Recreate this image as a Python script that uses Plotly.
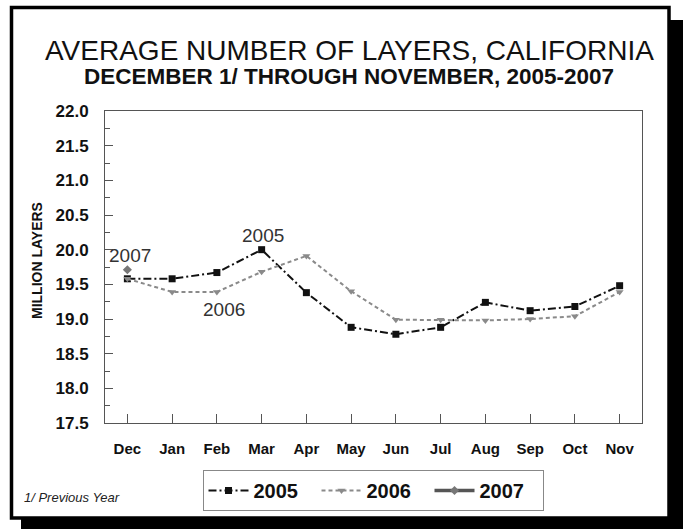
import plotly.graph_objects as go

months = ["Dec", "Jan", "Feb", "Mar", "Apr", "May", "Jun", "Jul", "Aug", "Sep", "Oct", "Nov"]
y2005 = [19.58, 19.58, 19.67, 20.00, 19.38, 18.88, 18.78, 18.88, 19.24, 19.12, 19.18, 19.48]
y2006 = [19.58, 19.39, 19.39, 19.68, 19.91, 19.40, 18.99, 18.99, 18.98, 19.00, 19.04, 19.39]
months2007 = ["Dec"]
y2007 = [19.71]
ytick_vals = [17.5, 18.0, 18.5, 19.0, 19.5, 20.0, 20.5, 21.0, 21.5, 22.0]

W, H = 683, 529
L, R, T, B = 105, 642, 111, 423


def px(x):
    return (x - L) / (R - L)


def py(y):
    return (B - y) / (B - T)


FONT = "Liberation Sans, Arial, Helvetica, sans-serif"

fig = go.Figure()
fig.add_trace(go.Scatter(
    x=months, y=y2005, name="2005", mode="lines+markers",
    line=dict(color="#111111", width=2, dash="8px,3px,2px,3px"),
    marker=dict(symbol="square", size=7, color="#111111"),
))
fig.add_trace(go.Scatter(
    x=months, y=y2006, name="2006", mode="lines+markers",
    line=dict(color="#8a8a8a", width=2, dash="4px,3px"),
    marker=dict(symbol="triangle-down", size=7, color="#8a8a8a"),
))
fig.add_trace(go.Scatter(
    x=months2007, y=y2007, name="2007", mode="lines+markers",
    line=dict(color="#555555", width=3.5),
    marker=dict(symbol="diamond", size=7, color="#777777"),
))

shapes = [
    # drop shadow
    dict(type="rect", xref="paper", yref="paper", x0=px(21), x1=px(690), y0=py(20), y1=py(540),
         fillcolor="black", line=dict(width=0), layer="below"),
    # white frame
    dict(type="rect", xref="paper", yref="paper", x0=px(11.5), x1=px(669), y0=py(7.5), y1=py(518),
         fillcolor="white", line=dict(color="black", width=3.5), layer="below"),
]

annotations = [
    dict(text="AVERAGE NUMBER OF LAYERS, CALIFORNIA", x=px(349), y=py(50), xref="paper", yref="paper",
         showarrow=False, font=dict(family=FONT, size=28, color="#111111"), xanchor="center", yanchor="middle"),
    dict(text="DECEMBER 1/ THROUGH NOVEMBER, 2005-2007", x=px(349), y=py(77), xref="paper", yref="paper",
         showarrow=False, font=dict(family=FONT, size=22.5, color="#111111", weight="bold"),
         xanchor="center", yanchor="middle"),
    dict(text="MILLION LAYERS", x=px(37), y=py(261), xref="paper", yref="paper", textangle=-90,
         showarrow=False, font=dict(family=FONT, size=14, color="#111111", weight="bold"),
         xanchor="center", yanchor="middle"),
    dict(text="2007", x=px(130), y=py(255), xref="paper", yref="paper", showarrow=False,
         font=dict(family=FONT, size=19, color="#333333"), xanchor="center", yanchor="middle"),
    dict(text="2005", x=px(263), y=py(235), xref="paper", yref="paper", showarrow=False,
         font=dict(family=FONT, size=19, color="#333333"), xanchor="center", yanchor="middle"),
    dict(text="2006", x=px(224), y=py(309), xref="paper", yref="paper", showarrow=False,
         font=dict(family=FONT, size=19, color="#333333"), xanchor="center", yanchor="middle"),
    dict(text="<i>1/ Previous Year</i>", x=px(22), y=py(497), xref="paper", yref="paper", showarrow=False,
         font=dict(family=FONT, size=13, color="#222222"), xanchor="left", yanchor="middle"),
]

fig.update_layout(
    width=W, height=H,
    margin=dict(l=L, r=W - R, t=T, b=H - B, pad=0),
    paper_bgcolor="white", plot_bgcolor="white",
    font=dict(family=FONT, color="#111111"),
    shapes=shapes, annotations=annotations,
    showlegend=True,
    legend=dict(
        orientation="h", x=px(373), y=py(470), xanchor="center", yanchor="top",
        bordercolor="#888888", borderwidth=1, bgcolor="white",
        font=dict(family=FONT, size=20, color="#111111", weight="bold"),
        itemwidth=40, entrywidth=58, entrywidthmode="pixels", tracegroupgap=0,
    ),
    xaxis=dict(
        type="category", categoryorder="array", categoryarray=months,
        range=[-0.5, 11.5], showgrid=False, zeroline=False,
        showline=True, linecolor="#555555", linewidth=1, mirror=True,
        ticks="inside", ticklen=9, tickcolor="#555555", tickwidth=1,
        tickfont=dict(family=FONT, size=15, color="#111111", weight="bold"),
        ticklabelstandoff=12,
    ),
    yaxis=dict(
        range=[17.5, 22.0], tickvals=ytick_vals, ticktext=[f"{v:.1f}" for v in ytick_vals],
        showgrid=False, zeroline=False,
        showline=True, linecolor="#555555", linewidth=1, mirror=True,
        ticks="inside", ticklen=8, tickcolor="#555555", tickwidth=1,
        minor=dict(ticks="inside", dtick=0.25, tick0=17.5, ticklen=5, tickcolor="#555555", showgrid=False),
        tickfont=dict(family=FONT, size=17, color="#111111", weight="bold"),
        ticklabelstandoff=12,
    ),
)

fig.write_html(
    "out.html",
    config={"displayModeBar": False},
    post_script="document.body.style.margin='0px';document.body.style.padding='0px';",
)
